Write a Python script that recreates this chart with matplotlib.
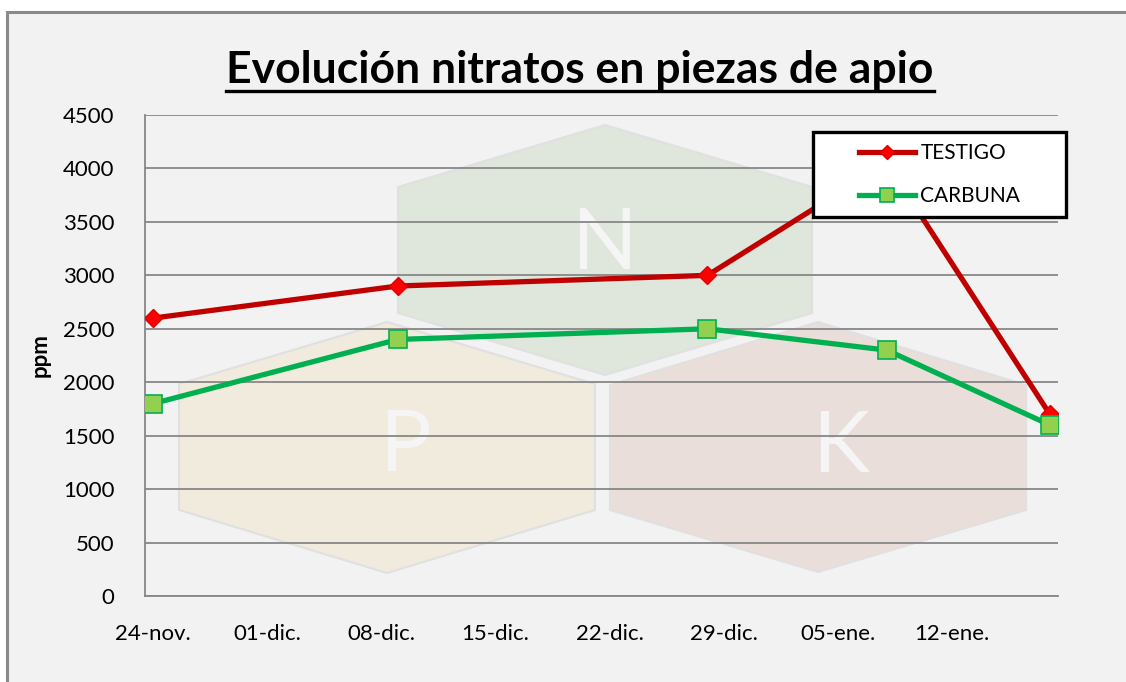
import matplotlib
matplotlib.use("Agg")
import pandas as pd
import matplotlib.pyplot as plt
from matplotlib.patches import Polygon, Rectangle
from matplotlib.lines import Line2D
from matplotlib.ticker import FuncFormatter

# datos
fechas = pd.to_datetime(["2013-11-24", "2013-12-09", "2013-12-28", "2014-01-08", "2014-01-18"])
testigo = [2600, 2900, 3000, 4050, 1700]
carbuna = [1800, 2400, 2500, 2300, 1600]
series = ["TESTIGO", "CARBUNA"]
meses = {11: "nov.", 12: "dic.", 1: "ene."}
y_ticks = [0, 500, 1000, 1500, 2000, 2500, 3000, 3500, 4000, 4500]
x_ticks = pd.date_range("2013-11-24", periods=8, freq="7D")

plt.rcParams['font.family'] = ['Lato', 'DejaVu Sans']

W, H = 1126, 682
fig = plt.figure(figsize=(W / 100, H / 100), dpi=100, facecolor="white")

# fondo, marco y marca de agua NPK (coordenadas en pixeles)
bg = fig.add_axes([0, 0, 1, 1], zorder=0)
bg.set_xlim(0, W)
bg.set_ylim(H, 0)
bg.axis("off")
bg.add_patch(Rectangle((7, 12), W + 20, H + 20, facecolor="#F2F2F2",
                       edgecolor="#8A8A8A", linewidth=2.2))


def hexagono(cx, top, hw, h1, h2, bottom, color, letra, lx, ly):
    pts = [(cx, top), (cx + hw, h1), (cx + hw, h2), (cx, bottom),
           (cx - hw, h2), (cx - hw, h1)]
    bg.add_patch(Polygon(pts, closed=True, facecolor=color,
                         edgecolor="#E0E0E0", linewidth=1.5))
    bg.text(lx, ly, letra, ha="center", va="center", fontsize=62,
            color="#F5F5F5", fontweight="normal")


hexagono(605, 125, 207, 187, 313, 375, "#DFE6DC", "N", 604, 245)
hexagono(387, 322, 208, 384, 510, 573, "#F1EBDE", "P", 405, 447)
hexagono(818, 322, 208, 385, 510, 572, "#EADEDA", "K", 841, 448)

# grafico principal
ax = fig.add_axes([145 / W, 1 - 596 / H, 913 / W, 481 / H], zorder=1)
ax.set_facecolor("none")

ax.plot(fechas, testigo, color="#C00000", linewidth=3.8, marker="D",
        markersize=9.5, markerfacecolor="#FF0000", markeredgecolor="#E00000",
        markeredgewidth=1, zorder=3, label=series[0])
ax.plot(fechas, carbuna, color="#00B050", linewidth=3.8, marker="s",
        markersize=12.5, markerfacecolor="#92D050", markeredgecolor="#00B050",
        markeredgewidth=1.2, zorder=3.5, label=series[1])

ax.set_xlim(fechas[0] - pd.Timedelta(hours=12), fechas[-1] + pd.Timedelta(hours=12))
ax.set_ylim(0, 4500)
ax.set_yticks(y_ticks)
ax.set_xticks(x_ticks)
ax.xaxis.set_major_formatter(FuncFormatter(
    lambda v, p: "%02d-%s" % (matplotlib.dates.num2date(v).day,
                              meses[matplotlib.dates.num2date(v).month])))
ax.tick_params(axis="both", length=0, labelsize=16, colors="black")
ax.tick_params(axis="x", pad=20)
ax.tick_params(axis="y", pad=22)

ax.grid(axis="y", color="#878787", linewidth=1.3)
ax.set_axisbelow(True)
for s in ["top", "right"]:
    ax.spines[s].set_visible(False)
for s in ["left", "bottom"]:
    ax.spines[s].set_color("#878787")
    ax.spines[s].set_linewidth(1.3)

ax.set_ylabel("ppm", fontsize=16, fontweight="bold")
ax.yaxis.set_label_coords(-0.103, 0.5)

# caja de leyenda
x0, x1 = (813 - 145) / 913, (1066 - 145) / 913
y0, y1 = (596 - 217) / 481, (596 - 132) / 481
ax.add_patch(Rectangle((x0, y0), x1 - x0, y1 - y0, transform=ax.transAxes,
                       facecolor="white", edgecolor="black", linewidth=2.4,
                       zorder=4, clip_on=False))
leg = ax.legend(loc="center", bbox_to_anchor=((x0 + x1) / 2, (y0 + y1) / 2),
                frameon=False, fontsize=15, handlelength=2.7, markerscale=0.75,
                handletextpad=0.25, labelspacing=1.1)
leg.set_zorder(5)

# titulo subrayado
titulo = fig.text(580 / W, 1 - 83 / H, "Evolución nitratos en piezas de apio",
                  ha="center", va="baseline", fontsize=32, fontweight="bold")
fig.canvas.draw()
bb = titulo.get_window_extent()
fig.add_artist(Line2D([bb.x0 / W, bb.x1 / W], [1 - 91 / H, 1 - 91 / H],
                      color="black", linewidth=2.4))

fig.savefig("out.png", dpi=100, facecolor="white")
